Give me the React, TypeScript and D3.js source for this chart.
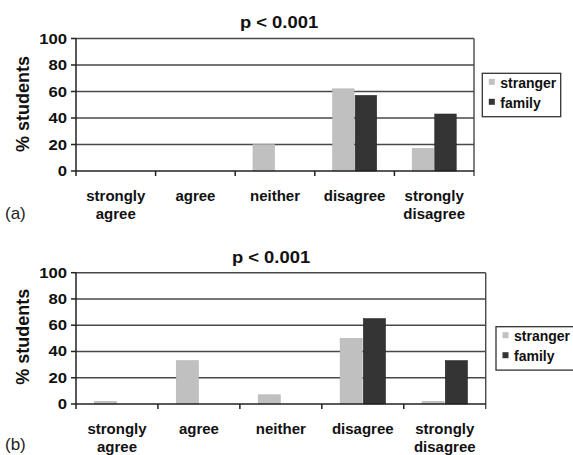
import React from "react";
import * as d3 from "d3";

const categories = ["strongly agree", "agree", "neither", "disagree", "strongly disagree"];
const categoryLines = [["strongly", "agree"], ["agree"], ["neither"], ["disagree"], ["strongly", "disagree"]];
const seriesNames = ["stranger", "family"];
const strangerA = [0, 0, 20, 62, 17];
const familyA = [0, 0, 0, 57, 43];
const strangerB = [2, 33, 7, 50, 2];
const familyB = [0, 0, 0, 65, 33];
const yTicks = [0, 20, 40, 60, 80, 100];
const titleText = "p < 0.001";
const yAxisLabel = "% students";
const panelLabels = ["(a)", "(b)"];
const seriesColors = ["#c0c0c0", "#343434"];

const FONT = "'Liberation Sans', Arial, Helvetica, sans-serif";

type Layout = {
  left: number; right: number; top: number; bottom: number;
  titleX: number; titleY: number;
  legX: number; legY: number; legW: number; legH: number;
  xLab1: number; panelLabelY: number; yLabelCenter: number;
};

const layoutA: Layout = {
  left: 76, right: 474, top: 38.5, bottom: 171,
  titleX: 279, titleY: 27.7,
  legX: 482.3, legY: 73.3, legW: 78.4, legH: 43.4,
  xLab1: 200.5, panelLabelY: 219, yLabelCenter: 104,
};
const layoutB: Layout = {
  left: 76, right: 485.7, top: 272.7, bottom: 404,
  titleX: 271, titleY: 263.3,
  legX: 496, legY: 326.7, legW: 78.4, legH: 43.4,
  xLab1: 433.5, panelLabelY: 450, yLabelCenter: 336.7,
};

function Panel({ L, series, label }: { L: Layout; series: number[][]; label: string }) {
  const x0 = d3.scaleBand<string>().domain(categories).range([L.left, L.right]).paddingInner(0.447).paddingOuter(0.2235);
  const x1 = d3.scaleBand<string>().domain(seriesNames).range([0, x0.bandwidth()]).paddingInner(0.05);
  const y = d3.scaleLinear().domain([0, 100]).range([L.bottom, L.top]);
  const step = x0.step();
  const boundaries = d3.range(categories.length + 1).map((i) => L.left + i * step);
  return (
    <g>
      {/* gridlines */}
      {yTicks.filter((t) => t > 0).map((t) => (
        <line key={t} x1={L.left} x2={L.right} y1={y(t)} y2={y(t)} stroke="#484848" strokeWidth={1.4} />
      ))}
      {/* right border */}
      <line x1={L.right} x2={L.right} y1={y(100)} y2={L.bottom + 5} stroke="#484848" strokeWidth={1.4} />
      {/* bars */}
      {categories.map((c, i) => (
        <g key={c}>
          {seriesNames.map((s, j) => {
            const v = series[j][i];
            if (v <= 0) return null;
            return (
              <rect key={s} x={(x0(c) as number) + (x1(s) as number)} y={y(v)} width={x1.bandwidth()} height={y(0) - y(v)}
                fill={seriesColors[j]} stroke={j === 1 ? "#222" : "#b4b4b4"} strokeWidth={0.6} />
            );
          })}
        </g>
      ))}
      {/* axes */}
      <line x1={L.left} x2={L.left} y1={y(100)} y2={L.bottom + 5} stroke="#222" strokeWidth={1.5} />
      <line x1={L.left} x2={L.right} y1={y(0)} y2={y(0)} stroke="#222" strokeWidth={1.5} />
      {yTicks.map((t) => (
        <g key={t}>
          <line x1={L.left - 5} x2={L.left} y1={y(t)} y2={y(t)} stroke="#222" strokeWidth={1.5} />
          <text transform={`translate(${L.left - 9},${y(t) + 5}) scale(1.15,1)`} textAnchor="end"
            fontFamily={FONT} fontWeight="bold" fontSize={14.5} fill="#111">{t}</text>
        </g>
      ))}
      {boundaries.slice(1, -1).map((bx, i) => (
        <line key={i} x1={bx} x2={bx} y1={y(0)} y2={y(0) + 5} stroke="#222" strokeWidth={1.5} />
      ))}
      {/* x labels */}
      {categories.map((c, i) => (
        <text key={c} textAnchor="middle" fontFamily={FONT} fontWeight="bold" fontSize={15} fill="#111">
          {categoryLines[i].map((ln, k) => (
            <tspan key={k} x={(x0(c) as number) + x0.bandwidth() / 2} y={L.xLab1 + k * 18}>{ln}</tspan>
          ))}
        </text>
      ))}
      {/* y axis label */}
      <text transform={`translate(29,${L.yLabelCenter}) rotate(-90)`} textAnchor="middle" fontFamily={FONT}
        fontWeight="bold" fontSize={18} fill="#111">{yAxisLabel}</text>
      {/* title */}
      <text transform={`translate(${L.titleX},${L.titleY}) scale(1.15,1)`} textAnchor="middle" fontFamily={FONT}
        fontWeight="bold" fontSize={16} fill="#111">{titleText}</text>
      {/* legend */}
      <rect x={L.legX} y={L.legY} width={L.legW} height={L.legH} fill="#fff" stroke="#333" strokeWidth={1.3} />
      {seriesNames.map((s, j) => {
        const base = L.legY + 14.5 + j * 20;
        return (
          <g key={s}>
            <rect x={L.legX + 6.5} y={base - 9} width={6} height={6} fill={seriesColors[j]} />
            <text x={L.legX + 18} y={base} fontFamily={FONT} fontWeight="bold" fontSize={14} fill="#111">{s}</text>
          </g>
        );
      })}
      {/* panel label */}
      <text x={5} y={L.panelLabelY} fontFamily={FONT} fontSize={17} fill="#222">{label}</text>
    </g>
  );
}

export default function App() {
  return (
    <svg width={573} height={455} style={{ position: "absolute", left: 0, top: 0, background: "#fff" }}>
      <rect x={0} y={0} width={573} height={455} fill="#fff" />
      <Panel L={layoutA} series={[strangerA, familyA]} label={panelLabels[0]} />
      <Panel L={layoutB} series={[strangerB, familyB]} label={panelLabels[1]} />
    </svg>
  );
}
